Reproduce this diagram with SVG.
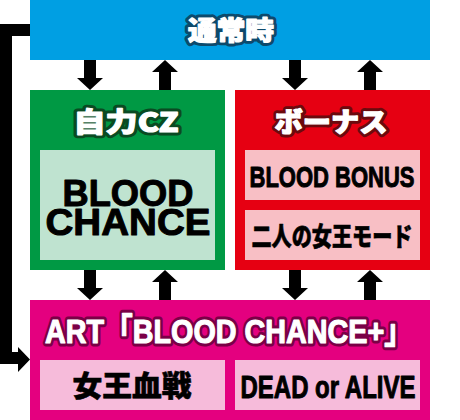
<svg xmlns="http://www.w3.org/2000/svg" width="460" height="420" viewBox="0 0 460 420">
<style>
.hd{font-family:"Noto Sans CJK JP","Liberation Sans",sans-serif;font-weight:900;text-anchor:middle;stroke-linejoin:round}
.hl{font-family:"Liberation Sans","Noto Sans CJK JP",sans-serif;font-weight:bold;text-anchor:middle;stroke-linejoin:round}
.o{stroke-width:7}
.w{fill:#fff;stroke:#fff;stroke-width:1.2}
.bk{font-family:"Liberation Sans","Noto Sans CJK JP",sans-serif;font-weight:bold;fill:#000;stroke:#000;stroke-width:1;stroke-linejoin:round;text-anchor:middle}
.jp{font-family:"Noto Sans CJK JP",sans-serif;font-weight:900;fill:#000;stroke:#000;stroke-width:0.6;text-anchor:middle}
.arr{fill:#000}
</style>
<defs>
<path id="dn" d="M-6,0 H6 V18 H13 L0,30 L-13,18 H-6 Z"/>
<path id="up" d="M-6,30 H6 V12 H13 L0,0 L-13,12 H-6 Z"/>
</defs>
<g id="connectors" class="arr">
<use href="#dn" x="90" y="60"/>
<use href="#up" x="165" y="60"/>
<use href="#dn" x="295" y="60"/>
<use href="#up" x="370" y="60"/>
<use href="#dn" x="90" y="270"/>
<use href="#up" x="165" y="270"/>
<use href="#dn" x="295" y="270"/>
<use href="#up" x="370" y="270"/>
<path d="M30,24 V36 H12 V352 H18 V347 L30,359.5 L18,372 V364 H0 V24 Z"/>
</g>
<g id="normal">
<rect x="30" y="0" width="400" height="60" fill="#009FE3"/>
<text class="hd o" x="231" y="40" font-size="26" fill="#0D4A6C" stroke="#0D4A6C" textLength="86" lengthAdjust="spacingAndGlyphs">通常時</text>
<text class="hd w" x="231" y="40" font-size="26" textLength="86" lengthAdjust="spacingAndGlyphs">通常時</text>
</g>
<g id="cz">
<rect x="30" y="90" width="195" height="180" fill="#009944"/>
<rect x="40" y="150" width="175" height="110" fill="#BFE3D0"/>
<text class="hd o" x="126" y="132" font-size="27" fill="#0A4A22" stroke="#0A4A22" textLength="105" lengthAdjust="spacingAndGlyphs">自力CZ</text>
<text class="hd w" x="126" y="132" font-size="27" textLength="105" lengthAdjust="spacingAndGlyphs">自力CZ</text>
<text class="bk" x="128" y="206" font-size="37" textLength="131" lengthAdjust="spacingAndGlyphs">BLOOD</text>
<text class="bk" x="128" y="235" font-size="37" textLength="165" lengthAdjust="spacingAndGlyphs">CHANCE</text>
</g>
<g id="bonus">
<rect x="235" y="90" width="195" height="180" fill="#E60012"/>
<rect x="245" y="150" width="175" height="50" fill="#F8BFC5"/>
<rect x="245" y="210" width="175" height="50" fill="#F8BFC5"/>
<text class="hd o" x="331" y="132" font-size="27" fill="#6B0A0E" stroke="#6B0A0E" textLength="113" lengthAdjust="spacingAndGlyphs">ボーナス</text>
<text class="hd w" x="331" y="132" font-size="27" textLength="113" lengthAdjust="spacingAndGlyphs">ボーナス</text>
<text class="bk" x="332" y="187" font-size="30" textLength="165" lengthAdjust="spacingAndGlyphs">BLOOD BONUS</text>
<text class="jp" x="332" y="246" font-size="26" textLength="161" lengthAdjust="spacingAndGlyphs">二人の女王モード</text>
</g>
<g id="art">
<rect x="30" y="300" width="400" height="120" fill="#E4007F"/>
<rect x="40" y="360" width="185" height="50" fill="#F6BBDA"/>
<rect x="235" y="360" width="185" height="50" fill="#F6BBDA"/>
<text class="hl o" x="229" y="343" font-size="34" fill="#7A0046" stroke="#7A0046" textLength="368" lengthAdjust="spacingAndGlyphs">ART「BLOOD CHANCE+」</text>
<text class="hl w" x="229" y="343" font-size="34" textLength="368" lengthAdjust="spacingAndGlyphs">ART「BLOOD CHANCE+」</text>
<text class="jp" x="132" y="397" font-size="29" textLength="119" lengthAdjust="spacingAndGlyphs">女王血戦</text>
<text class="bk" x="328" y="398" font-size="32" textLength="175" lengthAdjust="spacingAndGlyphs">DEAD or ALIVE</text>
</g>
</svg>
